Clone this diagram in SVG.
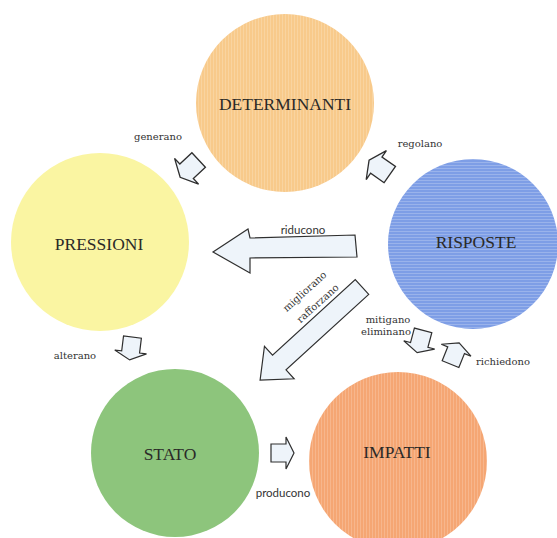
<svg xmlns="http://www.w3.org/2000/svg" xmlns:xlink="http://www.w3.org/1999/xlink" width="557" height="538" viewBox="0 0 557 538">
<style>
.big{font-family:"Liberation Serif","DejaVu Serif",serif;font-size:17.5px;fill:#2b2a28;text-anchor:middle}
.lbl{font-family:"DejaVu Serif","Liberation Serif",serif;font-size:10px;fill:#333;text-anchor:middle}
.sans{font-family:Lato,"Liberation Sans",sans-serif;font-size:11.5px;fill:#333;text-anchor:middle}
.arr{fill:#eef4fa;stroke:#2f2f2f;stroke-width:1.2;stroke-linejoin:miter}
</style>
<defs>
<pattern id="vl" width="3" height="10" patternUnits="userSpaceOnUse"><rect width="1" height="10" fill="#ffffff" opacity="0.18"/></pattern>
<pattern id="hl" width="10" height="3" patternUnits="userSpaceOnUse"><rect width="10" height="1" fill="#ffffff" opacity="0.22"/></pattern>
<polygon id="sa" points="-12,-9 3,-9 3,-16 11,0 3,16 3,9 -12,9"/>
</defs>
<rect width="557" height="538" fill="#ffffff"/>

<g id="determinanti">
<circle cx="285" cy="103" r="89" fill="#f8ca8b"/>
<circle cx="285" cy="103" r="89" fill="url(#vl)"/>
<text class="big" x="285" y="110">DETERMINANTI</text>
</g>
<g id="pressioni">
<circle cx="100" cy="242" r="89" fill="#faf5a2"/>
<text class="big" x="99" y="250">PRESSIONI</text>
</g>
<g id="risposte">
<circle cx="473" cy="244" r="85" fill="#7e9ee6"/>
<circle cx="473" cy="244" r="85" fill="url(#hl)"/>
<text class="big" x="476" y="248">RISPOSTE</text>
</g>
<g id="stato">
<circle cx="175" cy="453" r="84" fill="#8dc57c"/>
<text class="big" x="170" y="460">STATO</text>
</g>
<g id="impatti">
<circle cx="398" cy="461" r="89" fill="#f5a673"/>
<circle cx="398" cy="461" r="89" fill="url(#vl)"/>
<text class="big" x="397" y="458">IMPATTI</text>
</g>

<g id="connectors">
<use xlink:href="#sa" class="arr" transform="translate(189,169) rotate(137) scale(1.1)"/>
<use xlink:href="#sa" class="arr" transform="translate(379,167) rotate(-145) scale(1.1)"/>
<polygon class="arr" points="213,252 248,229 250,238 355,235 357,257 250,258 250,273"/>
<polygon class="arr" points="0,-10 112,-10 112,-22 138,0 112,22 112,10 0,10" transform="translate(362,287) rotate(137.6)"/>
<use xlink:href="#sa" class="arr" transform="translate(420,342) rotate(105)"/>
<use xlink:href="#sa" class="arr" transform="translate(455,353) rotate(-68)"/>
<use xlink:href="#sa" class="arr" transform="translate(131,349) rotate(97)"/>
<use xlink:href="#sa" class="arr" transform="translate(283,453)"/>
</g>

<g id="labels">
<text class="lbl" x="158" y="140">generano</text>
<text class="lbl" x="420" y="147">regolano</text>
<text class="sans" x="303" y="234">riducono</text>
<text class="lbl" transform="translate(307,294) rotate(-42)">migliorano</text>
<text class="lbl" transform="translate(320,306) rotate(-42)">rafforzano</text>
<text class="lbl" x="388" y="323">mitigano</text>
<text class="lbl" x="386" y="335">eliminano</text>
<text class="lbl" x="503" y="365">richiedono</text>
<text class="lbl" x="75" y="359">alterano</text>
<text class="sans" x="283" y="497">producono</text>
</g>
</svg>
